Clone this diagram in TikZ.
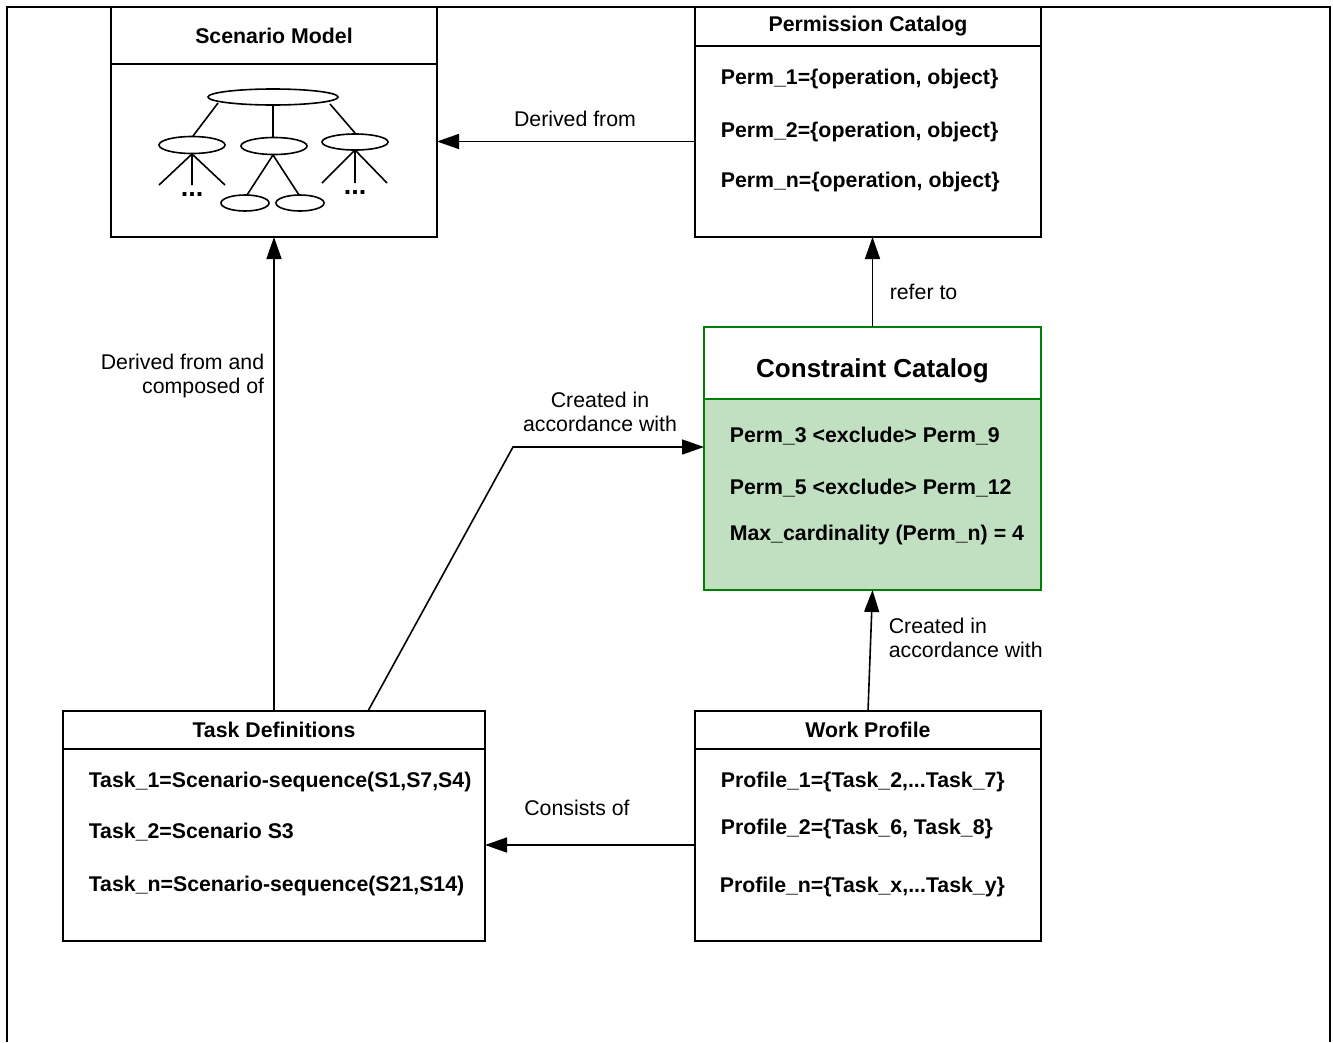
\documentclass[tikz,border=0pt]{standalone}
\usepackage{fontspec}
\setmainfont{Liberation Sans}
\usetikzlibrary{shapes, arrows.meta, positioning}
\definecolor{catgreen}{RGB}{0,128,0}
\definecolor{catfill}{RGB}{193,223,193}

\begin{document}
\begin{tikzpicture}[x=1pt, y=-1pt, line width=1.6pt]
        \tikzstyle{titlebox} = [rectangle, draw=black, fill=white, inner sep=0pt, outer sep=0pt, font=\fontsize{21.3}{24}\selectfont\bfseries]
        \tikzstyle{listbox} = [rectangle, draw=black, inner sep=0pt, outer sep=0pt]
        \tikzstyle{entry} = [anchor=base west, inner sep=0pt, font=\fontsize{21.3}{24}\selectfont\bfseries]
        \tikzstyle{note} = [inner sep=0pt, font=\fontsize{21.3}{24}\selectfont]
        \tikzstyle{flow} = [->, >={Triangle[length=22pt, width=15pt]}]

        \useasboundingbox (0,0) rectangle (1333,1042);
        \draw[line width=1.8pt] (7,1042) -- (7,7) -- (1330,7) -- (1330,1042);

        \node (scenhead) [titlebox, minimum width=326pt, minimum height=57pt, anchor=north west] at (111,7) {Scenario Model};
        \node (scenbody) [listbox, minimum width=326pt, minimum height=173pt, below=0pt of scenhead] {};
        \draw (273,97) ellipse [x radius=65pt, y radius=8pt];
        \draw (192,145) ellipse [x radius=33pt, y radius=8.5pt];
        \draw (274,146) ellipse [x radius=33pt, y radius=8.5pt];
        \draw (355,142) ellipse [x radius=33pt, y radius=8pt];
        \draw (245,203) ellipse [x radius=24pt, y radius=8pt];
        \draw (300,203) ellipse [x radius=24pt, y radius=8pt];
        \draw (218,103) -- (193,136) (273,105) -- (273,137) (330,104) -- (355,133);
        \draw (192,154) -- (159,185) (192,154) -- (192,185) (192,154) -- (225,185);
        \draw (273,155) -- (247,195) (273,155) -- (299,195);
        \draw (355,150) -- (322,183) (355,150) -- (355,183) (355,150) -- (387,183);
        \node (dotsleft) [entry, anchor=center, font=\fontsize{27}{30}\selectfont\bfseries] at (192,194) {...};
        \node (dotsright) [entry, anchor=center, font=\fontsize{27}{30}\selectfont\bfseries] at (355,192) {...};

        \node (permhead) [titlebox, minimum width=346pt, minimum height=39pt, anchor=north west] at (695,7) {Permission Catalog};
        \node (permbody) [listbox, minimum width=346pt, minimum height=191pt, below=0pt of permhead] {};
        \node (perm1) [entry] at (720,84) {Perm\_1=\{operation, object\}};
        \node (perm2) [entry] at (720,137) {Perm\_2=\{operation, object\}};
        \node (permn) [entry] at (720,187) {Perm\_n=\{operation, object\}};

        \node (conhead) [titlebox, draw=catgreen, minimum width=337pt, minimum height=72pt, anchor=north west, font=\fontsize{26}{30}\selectfont\bfseries, text height=29pt, text depth=0pt] at (704,327) {Constraint Catalog};
        \node (conbody) [listbox, draw=catgreen, fill=catfill, minimum width=337pt, minimum height=191pt, below=0pt of conhead] {};
        \node (con1) [entry] at (729,442) {Perm\_3 <exclude> Perm\_9};
        \node (con2) [entry] at (729,494) {Perm\_5 <exclude> Perm\_12};
        \node (con3) [entry] at (729,540) {Max\_cardinality (Perm\_n) = 4};

        \node (taskhead) [titlebox, minimum width=422pt, minimum height=38pt, anchor=north west] at (63,711) {Task Definitions};
        \node (taskbody) [listbox, minimum width=422pt, minimum height=192pt, below=0pt of taskhead] {};
        \node (task1) [entry] at (88,787) {Task\_1=Scenario-sequence(S1,S7,S4)};
        \node (task2) [entry] at (88,838) {Task\_2=Scenario S3};
        \node (taskn) [entry] at (88,891) {Task\_n=Scenario-sequence(S21,S14)};

        \node (workhead) [titlebox, minimum width=346pt, minimum height=38pt, anchor=north west] at (695,711) {Work Profile};
        \node (workbody) [listbox, minimum width=346pt, minimum height=192pt, below=0pt of workhead] {};
        \node (prof1) [entry] at (720,787) {Profile\_1=\{Task\_2,...Task\_7\}};
        \node (prof2) [entry] at (720,834) {Profile\_2=\{Task\_6, Task\_8\}};
        \node (profn) [entry] at (719,892) {Profile\_n=\{Task\_x,...Task\_y\}};

        \draw[flow] (permbody.west) -- (permbody.west -| scenbody.east);
        \node (derivedfrom) [note] at (575,119) {Derived from};
        \draw[flow] (conhead.north) -- (conhead.north |- permbody.south);
        \node (referto) [note, anchor=west] at (889,292) {refer to};
        \draw[flow] (workhead.north) -- (conbody.south);
        \node (createdright) [note, anchor=west, align=left] at (888,638) {Created in\\accordance with};
        \draw[flow] (taskhead.north) -- (scenbody.south);
        \node (composedof) [note, anchor=east, align=right] at (265,376) {Derived from and\\composed of};
        \coordinate (bend) at (513,447);
        \draw[flow] ([xshift=94pt]taskhead.north) -- (bend) -- (bend -| conbody.west);
        \node (createdmid) [note, align=center] at (600,412) {Created in\\accordance with};
        \draw[flow] (workbody.west) -- (taskbody.east);
        \node (consistsof) [note] at (577,808) {Consists of};

    \end{tikzpicture}
\end{document}
